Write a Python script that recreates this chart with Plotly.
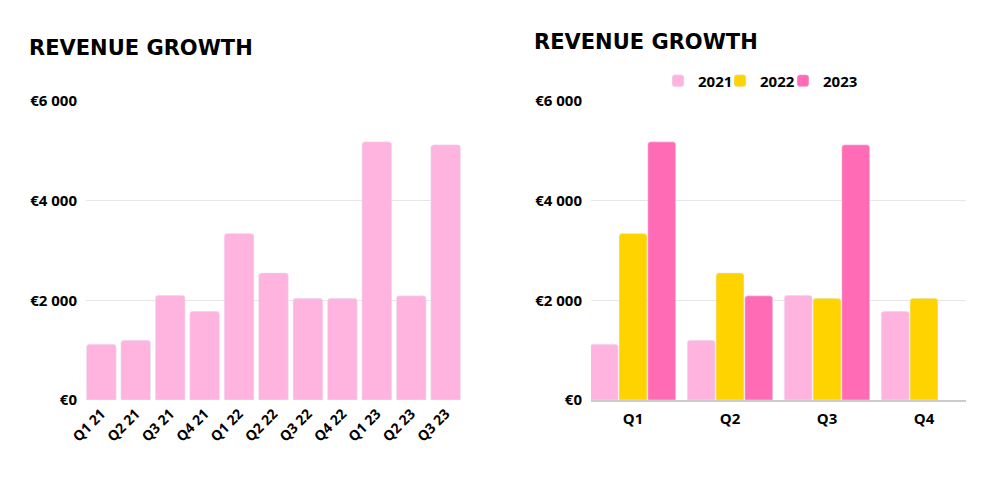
import plotly.graph_objects as go

# Data
quarters_all = ["Q1 21", "Q2 21", "Q3 21", "Q4 21", "Q1 22", "Q2 22", "Q3 22", "Q4 22", "Q1 23", "Q2 23", "Q3 23"]
revenue_all = [1120, 1200, 2100, 1780, 3340, 2550, 2040, 2040, 5180, 2090, 5120]

quarters = ["Q1", "Q2", "Q3", "Q4"]
rev_2021 = [1120, 1200, 2100, 1780]
rev_2022 = [3340, 2550, 2040, 2040]
rev_2023 = [5180, 2090, 5120, None]

tick_vals = [0, 2000, 4000, 6000]
tick_text = ["€0", "€2 000", "€4 000", "€6 000"]

PALE = "#FFB3DF"
YELLOW = "#FFD300"
PINK = "#FF6BB5"
TICKFONT = dict(family="Open Sans", size=15, color="#000000", weight=700)
LEGFONT = dict(family="Open Sans", size=15, color="#000000", weight=700)

fig = go.Figure()
fig.add_trace(go.Bar(x=quarters_all, y=revenue_all, marker_color=PALE, showlegend=False,
                     xaxis="x", yaxis="y"))
fig.add_trace(go.Bar(x=quarters, y=rev_2021, name="2021", marker_color=PALE, xaxis="x2", yaxis="y2",
                     legend="legend"))
fig.add_trace(go.Bar(x=quarters, y=rev_2022, name="2022", marker_color=YELLOW, xaxis="x2", yaxis="y2",
                     legend="legend2"))
fig.add_trace(go.Bar(x=quarters, y=rev_2023, name="2023", marker_color=PINK, xaxis="x2", yaxis="y2",
                     legend="legend3"))

yax = dict(range=[0, 6000], tickvals=tick_vals, ticktext=tick_text, showgrid=True,
           gridcolor="#E6E6E6", gridwidth=1, zeroline=False, tickfont=TICKFONT,
           ticks="", ticklabelstandoff=8, domain=[0.216, 0.814], fixedrange=True,
           automargin=False)

leg = dict(orientation="h", xanchor="left", y=0.854, yanchor="middle", font=LEGFONT,
           itemwidth=30, bgcolor="rgba(0,0,0,0)")

fig.update_layout(
    width=1000, height=500,
    margin=dict(l=0, r=0, t=0, b=0),
    paper_bgcolor="white", plot_bgcolor="white",
    barmode="group", bargap=0.11, bargroupgap=0.03,
    barcornerradius=3,
    xaxis=dict(domain=[0.078, 0.453], range=[-0.445, 10.445], tickangle=-45,
               tickfont=dict(family="Open Sans", size=14, color="#000000", weight=700),
               showgrid=False, showline=False, ticks="", anchor="y", automargin=False,
               ticklabelstandoff=2),
    yaxis=dict(**yax, anchor="x"),
    xaxis2=dict(domain=[0.583, 0.958], range=[-0.433, 3.433], showgrid=False,
                showline=True, linecolor="#CCCCCC", linewidth=1.5, ticks="",
                tickfont=TICKFONT, anchor="y2", automargin=False, ticklabelstandoff=4),
    yaxis2=dict(**yax, anchor="x2"),
    legend=dict(**leg, x=0.650),
    legend2=dict(**leg, x=0.712),
    legend3=dict(**leg, x=0.775),
    annotations=[
        dict(text="REVENUE GROWTH", x=0.019, y=0.92, xref="paper", yref="paper",
             xanchor="left", yanchor="middle", showarrow=False,
             font=dict(family="DejaVu Sans", size=21, color="#000000", weight=700)),
        dict(text="REVENUE GROWTH", x=0.524, y=0.932, xref="paper", yref="paper",
             xanchor="left", yanchor="middle", showarrow=False,
             font=dict(family="DejaVu Sans", size=21, color="#000000", weight=700)),
    ],
)

fig.write_html("out.html")
